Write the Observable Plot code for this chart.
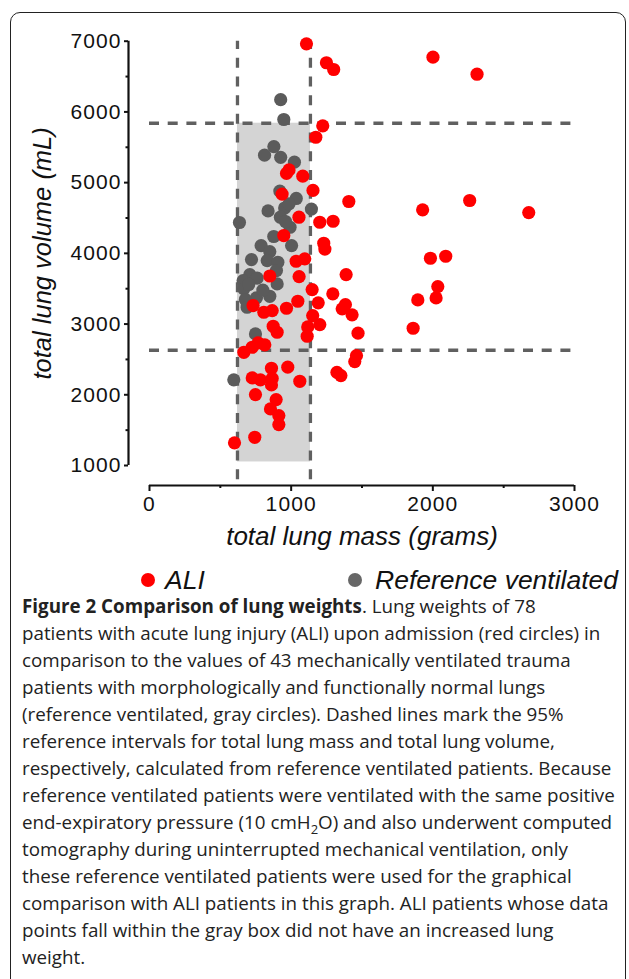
<!DOCTYPE html>
<html>
<head>
<meta charset="utf-8">
<script src="https://cdn.jsdelivr.net/npm/d3@7"></script>
<script src="https://cdn.jsdelivr.net/npm/@observablehq/plot@0.6"></script>
<style>
  html, body { margin: 0; padding: 0; background: #fff; }
  body { width: 629px; height: 979px; position: relative; overflow: hidden; }
  #frame { position: absolute; left: 10px; top: 12px; width: 616px; height: 1000px; border: 1.3px solid #222; border-radius: 10px; box-sizing: border-box; }
  #chart { position: absolute; left: 0; top: 0; }
  #chart g[aria-label="x-axis tick label"] text,
  #chart g[aria-label="y-axis tick label"] text { letter-spacing: 1.1px; }
  .leg-dot { position: absolute; width: 14px; height: 14px; border-radius: 50%; }
  .leg-text { position: absolute; font: italic 26.5px "Liberation Sans", Arial, sans-serif; color: #111; line-height: 30px; white-space: nowrap; }
  #caption { position: absolute; left: 22px; top: 593px; width: 605px; font: 18.8px "Open Sans", sans-serif; line-height: 27px; color: #222; }
  #caption p { margin: 0; white-space: nowrap; }
</style>
</head>
<body>
<div id="frame"></div>
<div id="chart"></div>
<div id="legend"></div>
<div id="caption"></div>
<script>
// ALI patients (red)
const aliMass = [1108,1249,1300,2001,2312,1223,1174,985,967,1082,1154,936,1407,1928,2260,2677,1055,1202,1296,948,1230,1238,1035,1096,1388,849,1056,1148,1294,1191,731,1383,1360,807,866,967,1047,1152,1430,873,1117,1202,1472,901,1113,814,767,725,666,1461,1449,861,976,725,783,866,861,1061,1323,1351,748,894,854,913,913,743,600,1983,2091,2035,2023,1894,1861];
const aliVolume = [6963,6695,6600,6774,6533,5803,5642,5180,5130,5091,4890,4838,4733,4615,4747,4577,4511,4440,4454,4252,4143,4060,3888,3922,3700,3680,3672,3488,3427,3300,3262,3276,3215,3167,3191,3224,3323,3120,3130,2969,2960,2993,2871,2884,2828,2706,2734,2672,2601,2554,2469,2375,2390,2239,2211,2230,2140,2191,2318,2272,2003,1932,1800,1706,1579,1399,1320,3931,3959,3530,3370,3342,2941];

// Reference ventilated patients (gray)
const refMass = [926,948,878,812,926,1023,920,1036,837,954,1143,924,635,992,877,788,1003,849,720,831,906,708,760,661,901,666,849,755,677,689,748,595,896,985,700,960,800];
const refVolume = [6173,5893,5510,5388,5358,5289,4880,4776,4600,4641,4626,4511,4436,4369,4238,4110,4110,4025,3912,3898,3874,3700,3650,3615,3568,3498,3393,3371,3347,3238,2861,2211,3757,4700,3560,4450,3480];

// 95% reference intervals
const massInterval = [621, 1136];
const volumeInterval = [2630, 5840];
const boxBottom = 1050;
const verticalRuleExtent = [800, 7000];

// Ticks
const xTicks = [0, 1000, 2000, 3000];
const xMinorTicks = [500, 1500, 2500];
const yTicks = [1000, 2000, 3000, 4000, 5000, 6000, 7000];
const yMinorTicks = [1500, 2500, 3500, 4500, 5500, 6500];

const xTitle = "total lung mass (grams)";
const yTitle = "total lung volume (mL)";
const seriesNames = ["ALI", "Reference ventilated"];
const seriesColors = ["#ff0000", "#5b5b5b"];

const ali = aliMass.map((m, i) => ({mass: m, volume: aliVolume[i]}));
const ref = refMass.map((m, i) => ({mass: m, volume: refVolume[i]}));
const box = [{x1: massInterval[0], x2: massInterval[1], y1: boxBottom, y2: volumeInterval[1]}];

const dashStyle = {stroke: "#606060", strokeWidth: 3.3, strokeDasharray: "10,8.7"};
const axisColor = "#111";

const chart = Plot.plot({
  width: 629,
  height: 560,
  marginLeft: 128,
  marginRight: 55,
  marginTop: 40,
  marginBottom: 75,
  x: {domain: d3.extent(xTicks), range: [149, 574]},
  y: {domain: d3.extent(yTicks), range: [465, 40.7]},
  style: {fontFamily: "'Liberation Sans', Arial, sans-serif", fontSize: "21px", color: axisColor, background: "transparent"},
  marks: [
    Plot.rect(box, {x1: "x1", x2: "x2", y1: "y1", y2: "y2", fill: "#d4d4d4"}),
    Plot.ruleX(massInterval, {y1: verticalRuleExtent[0], y2: verticalRuleExtent[1], ...dashStyle}),
    Plot.ruleY(volumeInterval, {x1: d3.min(xTicks), x2: d3.max(xTicks), ...dashStyle}),
    Plot.dot(ref, {x: "mass", y: "volume", r: 6.6, fill: seriesColors[1]}),
    Plot.dot(ali, {x: "mass", y: "volume", r: 6.6, fill: seriesColors[0]}),
    // axis lines (offset Prism-style)
    Plot.ruleY([d3.min(yTicks)], {x1: d3.min(xTicks), x2: d3.max(xTicks), dy: 20, stroke: axisColor, strokeWidth: 2.2}),
    Plot.ruleX([d3.min(xTicks)], {y1: d3.min(yTicks), y2: d3.max(yTicks), dx: -21, stroke: axisColor, strokeWidth: 2.2}),
    Plot.axisX(xTicks, {tickSize: 6, tickPadding: 5, tickFormat: d => String(d), label: null, fontSize: 21, stroke: axisColor, strokeWidth: 2, fill: axisColor}),
    Plot.axisX(xMinorTicks, {tickSize: 3, tickFormat: () => "", label: null, stroke: axisColor, strokeWidth: 2}),
    Plot.axisY(yTicks, {tickSize: 4, tickPadding: 3, tickFormat: d => String(d), label: null, fontSize: 21, stroke: axisColor, strokeWidth: 2, fill: axisColor}),
    Plot.axisY(yMinorTicks, {tickSize: 2.5, tickFormat: () => "", label: null, stroke: axisColor, strokeWidth: 2}),
    Plot.text([xTitle], {x: d3.mean(d3.extent(xTicks)), frameAnchor: "bottom", dy: 51, textAnchor: "middle", lineAnchor: "middle", fontSize: 26, fontStyle: "italic", fill: axisColor}),
    Plot.text([yTitle], {y: d3.mean(d3.extent(yTicks)), frameAnchor: "left", dx: -86, rotate: -90, textAnchor: "middle", lineAnchor: "middle", fontSize: 25.5, fontStyle: "italic", fill: axisColor})
  ]
});
document.getElementById("chart").appendChild(chart);

// Legend
const legend = document.getElementById("legend");
const legendPos = [{dot: 148, text: 165}, {dot: 355, text: 375}];
seriesNames.forEach((name, i) => {
  const dot = document.createElement("div");
  dot.className = "leg-dot";
  dot.style.background = i === 0 ? seriesColors[0] : "#676767";
  dot.style.left = (legendPos[i].dot - 7) + "px";
  dot.style.top = (580 - 7) + "px";
  legend.appendChild(dot);
  const t = document.createElement("div");
  t.className = "leg-text";
  t.textContent = name;
  t.style.left = legendPos[i].text + "px";
  t.style.top = (580 - 15) + "px";
  legend.appendChild(t);
});

// Caption
const captionLines = [
  "<b>Figure 2 Comparison of lung weights</b>. Lung weights of 78",
  "patients with acute lung injury (ALI) upon admission (red circles) in",
  "comparison to the values of 43 mechanically ventilated trauma",
  "patients with morphologically and functionally normal lungs",
  "(reference ventilated, gray circles). Dashed lines mark the 95%",
  "reference intervals for total lung mass and total lung volume,",
  "respectively, calculated from reference ventilated patients. Because",
  "reference ventilated patients were ventilated with the same positive",
  "end-expiratory pressure (10 cmH<sub style=\"font-size:13px;line-height:0\">2</sub>O) and also underwent computed",
  "tomography during uninterrupted mechanical ventilation, only",
  "these reference ventilated patients were used for the graphical",
  "comparison with ALI patients in this graph. ALI patients whose data",
  "points fall within the gray box did not have an increased lung",
  "weight."
];
document.getElementById("caption").innerHTML = captionLines.map(l => `<p>${l}</p>`).join("");
</script>
</body>
</html>
